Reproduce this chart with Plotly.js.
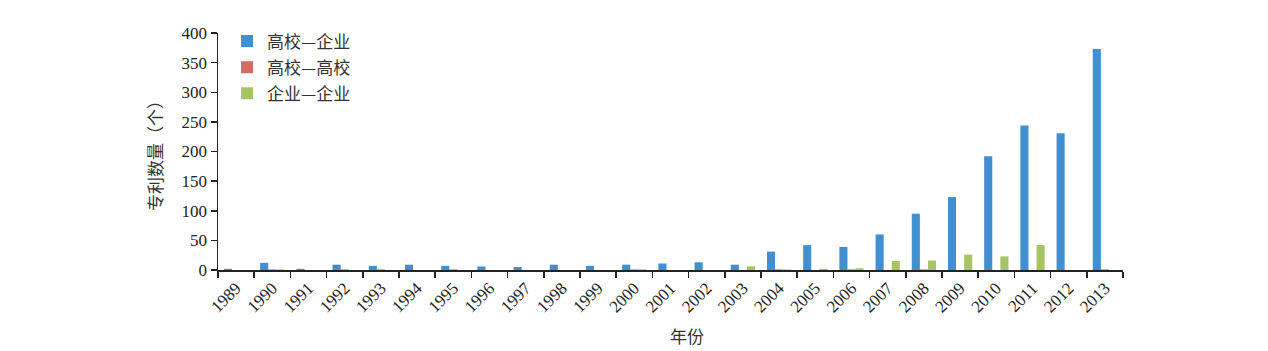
<!DOCTYPE html>
<html>
<head>
<meta charset="utf-8">
<script src="https://cdn.plot.ly/plotly-3.0.1.min.js"></script>
<style>html,body{margin:0;padding:0;background:#fff;}#chart{width:1268px;height:351px;}</style>
</head>
<body>
<div id="chart"></div>
<script>
const years = ['1989','1990','1991','1992','1993','1994','1995','1996','1997','1998','1999','2000','2001','2002','2003','2004','2005','2006','2007','2008','2009','2010','2011','2012','2013'];
const uniEnterprise = [2,12,2,9,7,9,7,6,5,9,7,9,11,13,9,31,42,39,60,95,123,192,244,231,373];
const uniUni = [0,1,0,1,1,0,1,0,0,0,0,1,0,0,0,1,0,1,0,1,0,0,0,0,1];
const entEnt = [0,1,0,0,0,0,0,0,0,0,0,1,0,0,6,1,2,3,15,16,26,23,42,0,0];
const seriesNames = ['高校—企业','高校—高校','企业—企业'];
const colors = ['#418fd0','#cd6f60','#a6c464'];

const FONT = 'Liberation Serif, Times New Roman, Noto Sans CJK SC, serif';
const CJK = 'Noto Sans CJK SC, sans-serif';
const data = [uniEnterprise, uniUni, entEnt].map((vals, i) => ({
  type: 'bar', x: years, y: vals, name: seriesNames[i], legendgroup: 'g' + i,
  marker: {color: colors[i]}
}));

const layout = {
  width: 1268, height: 351,
  margin: {l: 218, r: 145, t: 33, b: 81},
  paper_bgcolor: '#fff', plot_bgcolor: '#fff',
  font: {family: FONT, size: 17, color: '#222'},
  barmode: 'group', bargap: 0.33, bargroupgap: 0,
  showlegend: true,
  legend: {x: 0.01, y: 1.04, xanchor: 'left', yanchor: 'top', bgcolor: 'rgba(0,0,0,0)',
           traceorder: 'grouped', tracegroupgap: 1,
           font: {family: CJK, size: 17, color: '#333'}, itemwidth: 30},
  xaxis: {
    type: 'category', tickangle: -45, ticks: 'outside', ticklen: 6, tickwidth: 1.5, tickcolor: '#222',
    tickson: 'boundaries', showline: true, linecolor: '#222', linewidth: 1.5,
    showgrid: false, zeroline: false, tickfont: {family: FONT, size: 17, color: '#222'}
  },
  yaxis: {
    range: [0, 400], dtick: 50, ticks: 'outside', ticklen: 6, tickwidth: 1.5, tickcolor: '#222',
    showline: true, linecolor: '#222', linewidth: 1.5, showgrid: false, zeroline: false,
    tickfont: {family: FONT, size: 17, color: '#222'},
    title: {text: '专利数量（个）', standoff: 14, font: {family: CJK, size: 17, color: '#333'}}
  },
  annotations: [{
    text: '年份', xref: 'paper', yref: 'paper', x: 0.518, y: -0.215, xanchor: 'center', yanchor: 'top',
    showarrow: false, font: {family: CJK, size: 17, color: '#333'}
  }]
};
Plotly.newPlot('chart', data, layout, {displayModeBar: false, staticPlot: true});
</script>
</body>
</html>
